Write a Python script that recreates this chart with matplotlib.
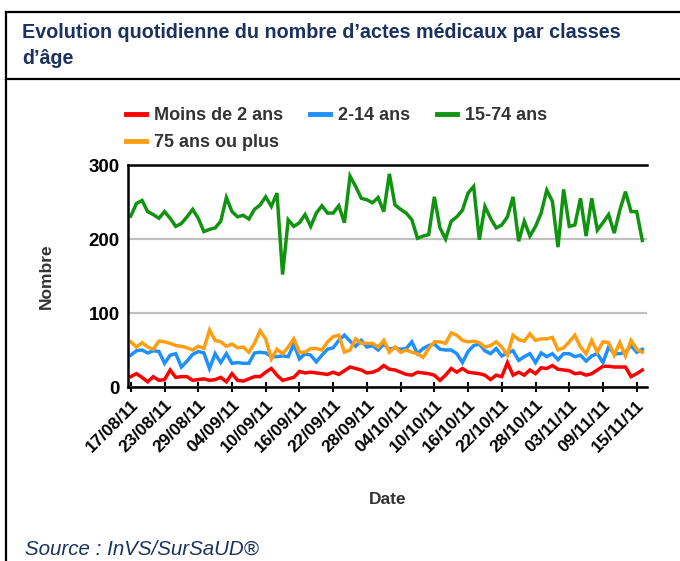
import pandas as pd
import matplotlib
matplotlib.use("Agg")
import matplotlib.pyplot as plt
import matplotlib.dates as mdates
from matplotlib.lines import Line2D

plt.rcParams['font.family'] = ['Liberation Sans', 'DejaVu Sans']

# Data: one value per day, 17/08/2011 -> 16/11/2011
dates = pd.date_range("2011-08-17", "2011-11-16", freq="D")

moins_2 = [14, 18, 13, 7, 14, 9, 10, 23, 13, 14, 14, 9, 10, 11, 9, 10, 13, 7, 18, 9,
           8, 11, 14, 14, 20, 25, 16, 9, 11, 13, 21, 19, 20, 19, 18, 17, 20, 17, 22, 27,
           25, 23, 19, 20, 23, 29, 24, 23, 20, 17, 16, 20, 19, 18, 16, 9, 16, 25, 20, 25,
           20, 19, 18, 16, 10, 16, 14, 33, 16, 20, 16, 23, 18, 26, 25, 29, 24, 23, 22, 18,
           19, 16, 18, 23, 28, 28, 27, 27, 27, 14, 18, 23]

ans_2_14 = [43, 49, 50, 46, 49, 48, 32, 43, 45, 27, 35, 44, 48, 46, 25, 45, 33, 45, 32, 33,
            32, 32, 46, 47, 46, 41, 41, 42, 41, 58, 38, 45, 43, 34, 43, 51, 53, 63, 70, 62,
            55, 63, 54, 56, 50, 58, 51, 53, 51, 52, 61, 45, 52, 56, 58, 51, 50, 50, 45, 33,
            48, 56, 58, 49, 45, 52, 42, 46, 49, 36, 41, 45, 33, 46, 41, 45, 37, 45, 45, 41,
            43, 35, 42, 45, 33, 54, 45, 45, 47, 56, 47, 51]

ans_15_74 = [231, 248, 252, 237, 233, 228, 237, 228, 217, 221, 230, 240, 228, 210, 213, 215, 224, 256, 237, 230,
             232, 227, 240, 246, 257, 244, 262, 152, 226, 217, 222, 233, 217, 235, 245, 235, 235, 245, 222, 285,
             271, 255, 253, 249, 256, 237, 288, 246, 240, 235, 226, 201, 204, 206, 257, 215, 200, 224, 230, 239,
             262, 271, 199, 244, 228, 215, 219, 230, 257, 197, 224, 204, 217, 235, 266, 251, 189, 267, 217, 219,
             255, 204, 255, 212, 222, 233, 208, 239, 264, 237, 237, 198]

ans_75_plus = [61, 54, 60, 54, 51, 62, 61, 59, 56, 55, 53, 50, 55, 52, 77, 63, 61, 55, 58, 53,
               54, 47, 59, 76, 65, 38, 51, 45, 54, 65, 47, 47, 52, 52, 50, 61, 68, 70, 47, 50,
               65, 59, 59, 59, 54, 63, 47, 54, 47, 50, 47, 45, 40, 52, 61, 61, 59, 73, 70, 63,
               61, 62, 60, 54, 56, 61, 54, 43, 70, 64, 62, 72, 63, 65, 65, 67, 50, 53, 61, 70,
               54, 45, 63, 47, 61, 60, 43, 60, 42, 63, 51, 47]

labels = ["Moins de 2 ans", "2-14 ans", "15-74 ans", "75 ans ou plus"]
colors = ["#ff0000", "#1e90ff", "#109410", "#ff9e10"]

fig = plt.figure(figsize=(6.8, 5.61), dpi=100)
W, H = 680, 561

# frame around the panel
navy = "#1b3160"
fig.add_artist(Line2D([6 / W, 1], [1 - 12 / H, 1 - 12 / H], color="black", lw=1.6))
fig.add_artist(Line2D([6 / W, 1], [1 - 79 / H, 1 - 79 / H], color="black", lw=1.6))
fig.add_artist(Line2D([6 / W, 6 / W], [0, 1 - 12 / H], color="black", lw=1.6))

fig.text(22 / W, 1 - 33 / H, "Evolution quotidienne du nombre d\u2019actes m\u00e9dicaux par classes",
         fontsize=14.2, fontweight="bold", color=navy, va="center", ha="left")
fig.text(22 / W, 1 - 58 / H, "d\u2019\u00e2ge",
         fontsize=14.2, fontweight="bold", color=navy, va="center", ha="left")
fig.text(25 / W, 1 - 549 / H, "Source : InVS/SurSaUD\u00ae",
         fontsize=14.8, style="italic", color=navy, va="center", ha="left")

ax = fig.add_axes([128 / W, 1 - 387 / H, (647 - 128) / W, (387 - 165) / H])

series = [moins_2, ans_2_14, ans_15_74, ans_75_plus]
handles = []
for vals, lab, col in zip(series, labels, colors):
    h, = ax.plot(dates, vals, color=col, lw=2.5, label=lab, solid_joinstyle="miter")
    handles.append(h)

ax.set_ylim(0, 300)
ax.set_xlim(dates[0] - pd.Timedelta(hours=12), dates[-1] + pd.Timedelta(hours=20))
ax.set_yticks([0, 100, 200, 300])
ax.yaxis.grid(True, color="#c0c0c0", lw=1.6)
ax.set_axisbelow(True)

ticks = pd.date_range("2011-08-17", "2011-11-15", freq="6D")
ax.set_xticks(ticks)
ax.xaxis.set_major_formatter(mdates.DateFormatter("%d/%m/%y"))
for lab in ax.get_xticklabels():
    lab.set_rotation(45)
    lab.set_ha("right")
    lab.set_rotation_mode("anchor")
    lab.set_fontweight("bold")
    lab.set_fontsize(12.5)
ax.tick_params(axis="x", direction="inout", length=7, width=1.5, pad=4)
ax.tick_params(axis="y", length=0, pad=6, labelsize=13.5)
for lab in ax.get_yticklabels():
    lab.set_fontweight("bold")

for s in ["top", "left", "bottom"]:
    ax.spines[s].set_linewidth(1.8)
ax.spines["right"].set_visible(False)

ax.set_ylabel("Nombre", fontsize=12.5, fontweight="bold", color="#333333", labelpad=25)
ax.set_xlabel("Date", fontsize=12.5, fontweight="bold", color="#333333", labelpad=26)

# legend: 3 columns, column-major filling -> reorder
order = [0, 3, 1, 2]
leg = fig.legend([handles[i] for i in order], [labels[i] for i in order],
                 ncol=3, loc="upper left", bbox_to_anchor=(126 / W, 1 - 107 / H),
                 frameon=False, borderpad=0, borderaxespad=0,
                 handlelength=1.1, handletextpad=0.45,
                 columnspacing=1.5, labelspacing=0.55,
                 prop={"weight": "bold", "size": 13})
for t in leg.get_texts():
    t.set_color("#333333")
for lh in leg.legend_handles:
    lh.set_linewidth(3.5)

fig.savefig("out.png", dpi=100)
